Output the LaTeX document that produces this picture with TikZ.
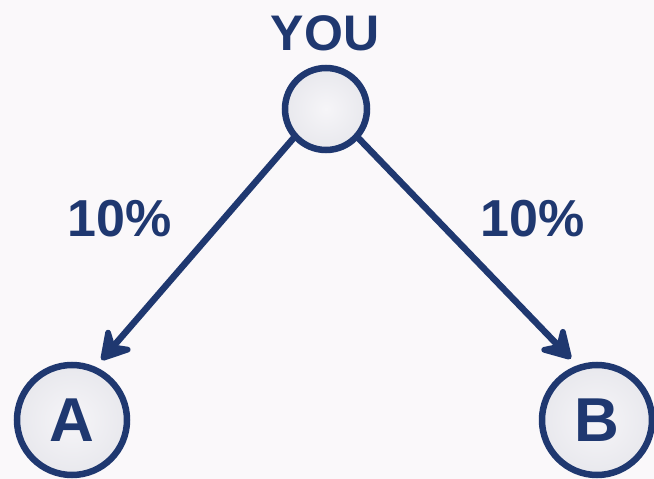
\documentclass[tikz,border=0pt]{standalone}
\usepackage{fontspec}
\setmainfont{Liberation Sans}
\usetikzlibrary{arrows.meta}
\definecolor{navy}{RGB}{31,56,112}
\definecolor{bg}{RGB}{250,248,250}
\definecolor{fillin}{RGB}{246,245,248}
\definecolor{fillout}{RGB}{232,232,237}
\tikzset{
  bubble/.style={circle, draw=navy, line width=6.5pt, inner sep=0pt,
    inner color=fillin, outer color=fillout, text=navy,
    font=\fontsize{62}{62}\selectfont\bfseries},
  lbl/.style={text=navy, inner sep=0pt, font=\fontsize{52}{52}\selectfont\bfseries},
  link/.style={draw=navy, line width=6.5pt, line cap=round,
    -{Stealth[length=36pt,width=42pt,inset=13pt,round]}, shorten >=9pt}
}
\begin{document}
\begin{tikzpicture}[x=1pt,y=-1pt]
\fill[bg] (0,0) rectangle (654,479);
\useasboundingbox (0,0) rectangle (654,479);
\node[bubble, minimum size=82pt] (you) at (326,109) {};
\node[bubble, minimum size=110pt] (a) at (72,420) {A};
\node[bubble, minimum size=110pt] (b) at (597,420) {B};
\node[lbl, font=\fontsize{50}{50}\selectfont\bfseries] (youlbl) at (325,33) {YOU};
\node[lbl] (pl) at (120,219) {10\%};
\node[lbl] (pr) at (533,219) {10\%};
\draw[link] (you.222) -- (a.66);
\draw[link] (you.318) -- (b.110);
\end{tikzpicture}
\end{document}
